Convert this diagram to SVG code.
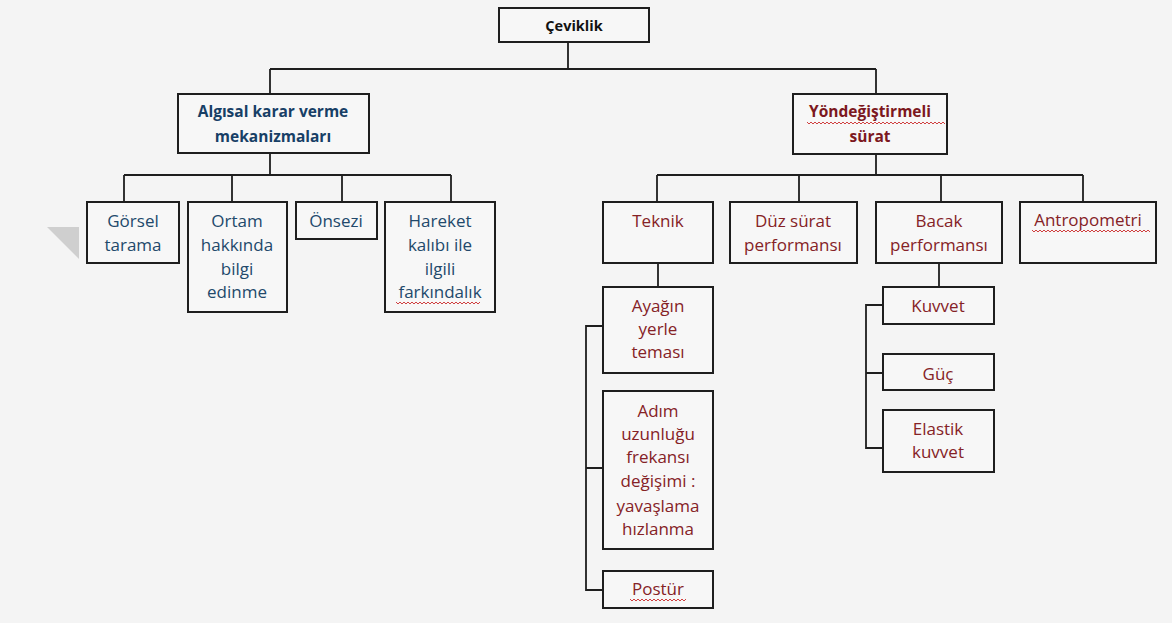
<svg xmlns="http://www.w3.org/2000/svg" width="1172" height="623" viewBox="0 0 1172 623">
<style>
.bg{fill:#f4f4f4}
.box{fill:#f7f7f7;stroke:#1e1e1e;stroke-width:2}
.ln{fill:none;stroke:#1e1e1e;stroke-width:1.8}
.t{font-family:"Open Sans","Liberation Sans",sans-serif;font-size:17px;text-anchor:middle}
.blk{fill:#111;font-weight:bold;font-size:14.5px}
.hb{fill:#173f66;font-weight:bold;font-size:15.5px}
.hr{fill:#7c1820;font-weight:bold;font-size:15.5px}
.lb{fill:#22496b}
.lr{fill:#852226}
.sq{fill:none;stroke:#d04040;stroke-width:1}
</style>
<rect class="bg" x="0" y="0" width="1172" height="623"/>
<polygon points="47,227 79,227 79,259" fill="#cfcfcf"/>
<g id="connectors">
<path class="ln" d="M568,42 V69 M270,69 H876 M270,69 V94 M876,69 V94"/>
<path class="ln" d="M270,153 V175 M124,175 H451 M124,175 V202 M232,175 V202 M342,175 V202 M451,175 V202"/>
<path class="ln" d="M876,154 V175 M657,175 H1083 M657,175 V202 M799,175 V202 M941,175 V202 M1083,175 V202"/>
<path class="ln" d="M658,263 V287 M603,326 H586 V590 H603 M586,468 H603"/>
<path class="ln" d="M939,263 V287 M883,305 H866 V448 H883 M866,373 H883"/>
</g>
<g id="n-ceviklik"><rect class="box" x="499" y="8" width="150" height="34"/><text class="t blk" x="574" y="31">Çeviklik</text></g>
<g id="n-algisal"><rect class="box" x="178" y="94" width="191" height="59"/><text class="t hb" x="273" y="117">Algısal karar verme</text><text class="t hb" x="273" y="142">mekanizmaları</text></g>
<g id="n-yon"><rect class="box" x="793" y="94" width="154" height="60"/><text class="t hr" x="870" y="117">Yöndeğiştirmeli</text><text class="t hr" x="870" y="142">sürat</text><path class="sq" d="M807,122 l2,2 l2,-2 l2,2 l2,-2 l2,2 l2,-2 l2,2 l2,-2 l2,2 l2,-2 l2,2 l2,-2 l2,2 l2,-2 l2,2 l2,-2 l2,2 l2,-2 l2,2 l2,-2 l2,2 l2,-2 l2,2 l2,-2 l2,2 l2,-2 l2,2 l2,-2 l2,2 l2,-2 l2,2 l2,-2 l2,2 l2,-2 l2,2 l2,-2 l2,2 l2,-2 l2,2 l2,-2 l2,2 l2,-2 l2,2 l2,-2 l2,2 l2,-2 l2,2 l2,-2 l2,2 l2,-2 l2,2 l2,-2 l2,2 l2,-2 l2,2 l2,-2 l2,2 l2,-2 l2,2 l2,-2 l2,2 l2,-2 l2,2 l2,-2 l2,2 l2,-2 l2,2 l2,-2 l2,2"/></g>
<g id="n-gorsel"><rect class="box" x="87" y="202" width="92" height="61"/><text class="t lb" x="133" y="227">Görsel</text><text class="t lb" x="133" y="251">tarama</text></g>
<g id="n-ortam"><rect class="box" x="188" y="202" width="99" height="110"/><text class="t lb" x="237" y="227">Ortam</text><text class="t lb" x="237" y="251">hakkında</text><text class="t lb" x="237" y="275">bilgi</text><text class="t lb" x="237" y="298">edinme</text></g>
<g id="n-onsezi"><rect class="box" x="296" y="202" width="81" height="37"/><text class="t lb" x="336" y="227">Önsezi</text></g>
<g id="n-hareket"><rect class="box" x="385" y="202" width="110" height="110"/><text class="t lb" x="440" y="227">Hareket</text><text class="t lb" x="440" y="251">kalıbı ile</text><text class="t lb" x="440" y="275">ilgili</text><text class="t lb" x="440" y="298">farkındalık</text><path class="sq" d="M396,302 l2,2 l2,-2 l2,2 l2,-2 l2,2 l2,-2 l2,2 l2,-2 l2,2 l2,-2 l2,2 l2,-2 l2,2 l2,-2 l2,2 l2,-2 l2,2 l2,-2 l2,2 l2,-2 l2,2 l2,-2 l2,2 l2,-2 l2,2 l2,-2 l2,2 l2,-2 l2,2 l2,-2 l2,2 l2,-2 l2,2 l2,-2 l2,2 l2,-2 l2,2 l2,-2 l2,2 l2,-2 l2,2 l2,-2"/></g>
<g id="n-teknik"><rect class="box" x="603" y="202" width="110" height="61"/><text class="t lr" x="658" y="227">Teknik</text></g>
<g id="n-duz"><rect class="box" x="730" y="202" width="127" height="61"/><text class="t lr" x="793" y="227">Düz sürat</text><text class="t lr" x="793" y="251">performansı</text></g>
<g id="n-bacak"><rect class="box" x="876" y="202" width="126" height="61"/><text class="t lr" x="939" y="227">Bacak</text><text class="t lr" x="939" y="251">performansı</text></g>
<g id="n-antropometri"><rect class="box" x="1020" y="202" width="136" height="61"/><text class="t lr" x="1088" y="226">Antropometri</text><path class="sq" d="M1032,230 l2,2 l2,-2 l2,2 l2,-2 l2,2 l2,-2 l2,2 l2,-2 l2,2 l2,-2 l2,2 l2,-2 l2,2 l2,-2 l2,2 l2,-2 l2,2 l2,-2 l2,2 l2,-2 l2,2 l2,-2 l2,2 l2,-2 l2,2 l2,-2 l2,2 l2,-2 l2,2 l2,-2 l2,2 l2,-2 l2,2 l2,-2 l2,2 l2,-2 l2,2 l2,-2 l2,2 l2,-2 l2,2 l2,-2 l2,2 l2,-2 l2,2 l2,-2 l2,2 l2,-2 l2,2 l2,-2 l2,2 l2,-2 l2,2 l2,-2 l2,2 l2,-2 l2,2 l2,-2 l2,2"/></g>
<g id="n-ayagin"><rect class="box" x="603" y="287" width="110" height="86"/><text class="t lr" x="658" y="312">Ayağın</text><text class="t lr" x="658" y="335">yerle</text><text class="t lr" x="658" y="358">teması</text></g>
<g id="n-adim"><rect class="box" x="603" y="391" width="110" height="158"/><text class="t lr" x="658" y="417">Adım</text><text class="t lr" x="658" y="440">uzunluğu</text><text class="t lr" x="658" y="463">frekansı</text><text class="t lr" x="658" y="487">değişimi :</text><text class="t lr" x="658" y="512">yavaşlama</text><text class="t lr" x="658" y="535">hızlanma</text></g>
<g id="n-postur"><rect class="box" x="603" y="571" width="110" height="37"/><text class="t lr" x="658" y="595">Postür</text><path class="sq" d="M630,599 l2,2 l2,-2 l2,2 l2,-2 l2,2 l2,-2 l2,2 l2,-2 l2,2 l2,-2 l2,2 l2,-2 l2,2 l2,-2 l2,2 l2,-2 l2,2 l2,-2 l2,2 l2,-2 l2,2 l2,-2 l2,2 l2,-2 l2,2 l2,-2 l2,2 l2,-2"/></g>
<g id="n-kuvvet"><rect class="box" x="883" y="287" width="111" height="37"/><text class="t lr" x="938" y="312">Kuvvet</text></g>
<g id="n-guc"><rect class="box" x="883" y="354" width="111" height="36"/><text class="t lr" x="938" y="380">Güç</text></g>
<g id="n-elastik"><rect class="box" x="883" y="410" width="111" height="62"/><text class="t lr" x="938" y="435">Elastik</text><text class="t lr" x="938" y="458">kuvvet</text></g>
</svg>
